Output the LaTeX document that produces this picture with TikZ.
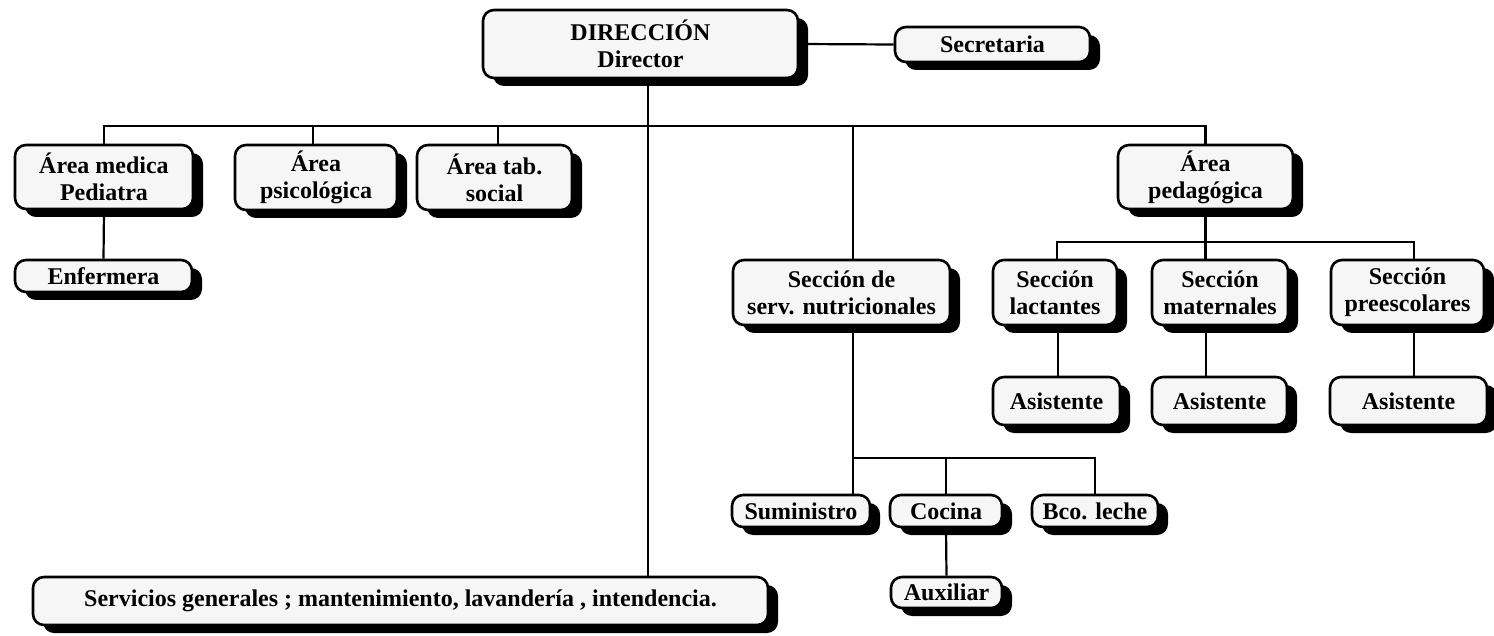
\documentclass[tikz,border=0pt]{standalone}
\usepackage{fontspec}
\setmainfont{Liberation Serif}
\usetikzlibrary{shadows,calc}
\pgfdeclarelayer{bg}
\pgfsetlayers{bg,main}
\begin{document}
\begin{tikzpicture}[x=1pt,y=-1pt,
  orgbox/.style={draw=black, line width=2.6pt, rounded corners=11pt, fill=gray!7,
    align=center, inner sep=0pt,
    font=\bfseries\fontsize{24}{27}\selectfont,
    drop shadow={shadow xshift=10pt, shadow yshift=-8pt, fill=black, opacity=1}},
  conn/.style={draw=black, line width=2.2pt}]
\useasboundingbox (0,0) rectangle (1494,636);
% nodes
\node[orgbox, minimum width=315pt, minimum height=68pt] (dir) at (640.5,44) {DIRECCIÓN\\Director};
\node[orgbox, minimum width=195pt, minimum height=35pt] (sec) at (992.5,44.5) {Secretaria};
\node[orgbox, minimum width=178pt, minimum height=64pt] (med) at (104,177) {Área medica\\Pediatra};
\node[orgbox, minimum width=162pt, minimum height=65pt] (psi) at (316,177.5) {Área\\psicológica};
\node[orgbox, minimum width=155pt, minimum height=65pt] (tab) at (494.5,177.5) {Área tab.\\social};
\node[orgbox, minimum width=175pt, minimum height=64pt] (ped) at (1205.5,177) {Área\\pedagógica};
\node[orgbox, minimum width=177pt, minimum height=32pt] (enf) at (103.5,276) {Enfermera};
\node[orgbox, minimum width=217pt, minimum height=65pt] (nut) at (841.5,292.5) {Sección de\\serv. nutricionales};
\node[orgbox, minimum width=124pt, minimum height=65pt] (lac) at (1055,292.5) {Sección\\lactantes};
\node[orgbox, minimum width=136pt, minimum height=65pt] (mat) at (1220,292.5) {Sección\\maternales};
\node[orgbox, minimum width=153pt, minimum height=65pt] (pre) at (1407.5,292.5) {Sección\\preescolares};
\node[orgbox, minimum width=127pt, minimum height=48pt] (asa) at (1056.5,401) {Asistente};
\node[orgbox, minimum width=135pt, minimum height=48pt] (asb) at (1219.5,401) {Asistente};
\node[orgbox, minimum width=157pt, minimum height=48pt] (asc) at (1408.5,401) {Asistente};
\node[orgbox, minimum width=138pt, minimum height=32pt] (sum) at (801,511) {Suministro};
\node[orgbox, minimum width=112pt, minimum height=32pt] (coc) at (946,511) {Cocina};
\node[orgbox, minimum width=126pt, minimum height=32pt] (bco) at (1095,511) {Bco. leche};
\node[orgbox, minimum width=111pt, minimum height=31pt] (aux) at (946.5,592.5) {Auxiliar};
\node[orgbox, minimum width=735pt, minimum height=48pt] (ser) at (400.5,601) {Servicios generales ; mantenimiento, lavandería , intendencia.};
\coordinate (bus) at (0,126);
\coordinate (pbus) at (0,242);
\coordinate (nbus) at (0,458);
% connectors
\begin{pgfonlayer}{bg}
\draw[conn] (dir.east) -- (sec.west);
\draw[conn] ([xshift=7.5pt]dir.south) -- ([xshift=7.5pt]dir.south |- ser.north);
\draw[conn] (med.north) -- (med.north |- bus) -- (ped.north |- bus) -- (ped.north);
\draw[conn] ([xshift=-3pt]psi.north) -- ([xshift=-3pt]psi.north |- bus);
\draw[conn] ([xshift=3.5pt]tab.north) -- ([xshift=3.5pt]tab.north |- bus);
\draw[conn] ([xshift=11.5pt]nut.north) -- ([xshift=11.5pt]nut.north |- bus);
\draw[conn] (med.south) -- (enf.north);
\draw[conn] (ped.south) -- (ped.south |- pbus);
\draw[conn] ([xshift=2pt]lac.north) -- ([xshift=2pt]lac.north |- pbus) -- ([xshift=6.5pt]pre.north |- pbus) -- ([xshift=6.5pt]pre.north);
\draw[conn] ([xshift=-14.5pt]mat.north) -- ([xshift=-14.5pt]mat.north |- pbus);
\draw[conn] ([xshift=3pt]lac.south) -- ([xshift=3pt]lac.south |- asa.north);
\draw[conn] ([xshift=-14pt]mat.south) -- ([xshift=-14pt]mat.south |- asb.north);
\draw[conn] ([xshift=6.5pt]pre.south) -- ([xshift=6.5pt]pre.south |- asc.north);
\draw[conn] ([xshift=11.5pt]nut.south) -- ([xshift=11.5pt]nut.south |- sum.north);
\draw[conn] ([xshift=11.5pt]nut.south |- nbus) -- (bco.north |- nbus) -- (bco.north);
\draw[conn] (coc.north) -- (coc.north |- nbus);
\draw[conn] (coc.south) -- (aux.north);
\end{pgfonlayer}
\end{tikzpicture}
\end{document}
